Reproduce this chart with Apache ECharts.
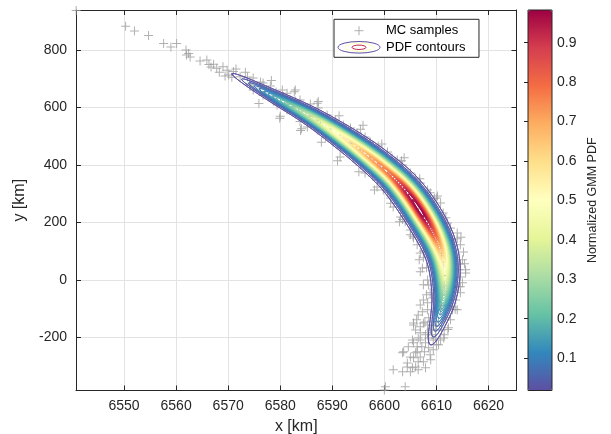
<!DOCTYPE html>
<html>
<head>
<meta charset="utf-8">
<script src="https://cdn.jsdelivr.net/npm/echarts@6/dist/echarts.min.js"></script>
<style>
html, body { margin: 0; padding: 0; background: #ffffff; }
#chart { width: 611px; height: 434px; }
</style>
</head>
<body>
<div id="chart"></div>
<script>
// ---- Monte Carlo samples of the propagated state (km) ----
const sampleX = [
  6540.8, 6550.3, 6552.0, 6554.7, 6557.6, 6559.0, 6560.1, 6561.9, 6562.4, 6562.7,
  6562.0, 6564.6, 6565.9, 6566.3, 6567.2, 6567.8, 6566.7, 6569.0, 6569.8, 6570.1,
  6571.0, 6570.7, 6569.4, 6568.3, 6571.5, 6572.3, 6573.3, 6573.7, 6574.2, 6574.8,
  6574.8, 6576.2, 6576.2, 6576.7, 6576.7, 6578.1, 6578.7, 6579.4, 6580.4, 6580.6,
  6581.3, 6581.9, 6582.5, 6581.3, 6583.8, 6583.8, 6585.2, 6585.8, 6587.1, 6587.3,
  6589.0, 6588.7, 6590.6, 6592.1, 6592.9, 6593.5, 6594.8, 6595.4, 6596.3, 6596.3,
  6597.3, 6598.7, 6598.8, 6599.8, 6600.6, 6600.6, 6601.5, 6599.8, 6601.7, 6602.5,
  6603.5, 6603.1, 6605.0, 6605.0, 6606.0, 6606.3, 6606.9, 6607.5, 6608.3, 6608.8,
  6606.9, 6610.0, 6610.8, 6608.3, 6611.3, 6612.1, 6612.7, 6614.0, 6614.6, 6615.2,
  6615.0, 6615.6, 6614.2, 6614.6, 6615.0, 6614.0, 6614.6, 6613.7, 6613.1, 6613.1,
  6612.7, 6612.3, 6611.5, 6608.8, 6607.5, 6608.3, 6607.5, 6606.5, 6605.6, 6605.6,
  6607.5, 6606.9, 6606.9, 6608.3, 6608.5, 6609.4, 6607.9, 6607.2, 6606.3, 6608.5,
  6603.7, 6606.3, 6605.0, 6606.0, 6606.9, 6605.6, 6606.5, 6604.4, 6605.4, 6605.0,
  6603.5, 6607.9, 6601.7, 6600.2, 6604.0, 6600.0, 6609.4, 6610.0, 6610.8, 6608.8,
  6609.8, 6609.2, 6610.4, 6608.5, 6609.6, 6610.8, 6611.7, 6611.9, 6610.4, 6611.2,
  6609.2, 6612.5, 6610.0, 6608.3, 6606.5, 6605.6, 6604.6, 6607.7, 6609.2, 6611.0,
  6574.2, 6577.1, 6581.3, 6585.6, 6589.6, 6593.5, 6597.3, 6601.0, 6604.0, 6606.5,
  6608.7, 6610.8, 6611.3, 6611.5, 6611.0, 6610.0, 6579.0, 6583.5, 6587.7, 6591.5,
  6595.4, 6599.2, 6602.5, 6605.2, 6607.9, 6610.0, 6611.0, 6612.1, 6610.6, 6612.3,
  6590.2, 6591.5, 6594.0, 6597.7, 6601.2, 6604.0, 6605.6, 6606.7, 6613.1, 6613.7,
  6610.6, 6609.2, 6607.9, 6603.1, 6599.2, 6595.4, 6591.5, 6587.3, 6582.9, 6579.2,
  6605.0, 6606.9, 6615.6, 6614.0, 6603.5, 6604.4, 6606.0,
  6575.9, 6578.3, 6580.0, 6582.7, 6584.1, 6587.1, 6587.9, 6591.3, 6591.5, 6595.4,
  6595.1, 6599.5, 6598.6, 6603.3, 6601.2, 6606.8, 6603.5, 6609.6, 6605.5, 6611.8,
  6607.5, 6614.0, 6608.1, 6614.6, 6608.5, 6614.6, 6608.3, 6613.6, 6607.8, 6612.2,
  6591.0, 6595.9, 6598.1, 6603.8, 6602.9, 6610.2, 6614.7, 6607.3, 6615.4, 6583.9,
  6587.3, 6579.9, 6582.9,
  6606.0, 6606.9, 6607.9, 6608.9, 6609.8, 6605.4, 6606.2, 6607.3, 6606.9, 6608.1,
  6608.9, 6606.5, 6607.5, 6610.4, 6611.4
];
const sampleY = [
  938, 883, 866, 851, 823, 811, 823, 800, 788, 776,
  783, 762, 765, 750, 751, 737, 741, 742, 730, 713,
  725, 705, 710, 723, 734, 707, 723, 706, 678, 703,
  661, 689, 668, 643, 685, 675, 626, 609, 661, 638,
  650, 626, 603, 591, 626, 551, 532, 612, 522, 598,
  574, 497, 556, 539, 452, 529, 511, 400, 372, 497,
  480, 348, 466, 323, 445, 306, 424, 313, 254, 417,
  400, 219, 372, 174, 355, 122, 337, 77, 313, 303,
  28, 285, 268, 0, 233, 198, 181, 163, 122, 97,
  70, 35, 35, 10, -10, -24, -45, -70, -94, -104,
  -139, -167, -191, -45, -70, -104, -17, -122, -150, -157,
  -150, -163, -184, -184, -202, -209, -219, -233, -233, -236,
  -250, -250, -268, -254, -268, -271, -285, -289, -306, -320,
  -320, -306, -313, -372, -372, -383, -243, -226, -209, -261,
  -174, -157, -146, -132, -111, -104, -132, -87, -70, -52,
  -63, -70, -35, -157, -202, -219, -233, -250, -191, -174,
  682, 654, 612, 570, 525, 476, 424, 369, 310, 247,
  184, 122, 49, -21, -90, -160, 640, 584, 556, 494,
  452, 390, 344, 278, 209, 153, 83, 14, 14, -42,
  480, 459, 424, 362, 285, 202, 146, 70, 139, 77,
  216, 257, 292, 383, 435, 487, 529, 577, 623, 654,
  157, 94, 24, -104, -254, -303, -303,
  614, 694, 570, 655, 526, 615, 479, 571, 428, 524,
  376, 473, 323, 415, 267, 352, 210, 284, 152, 216,
  100, 143, 42, 55, -18, -24, -80, -102, -147, -173,
  415, 538, 313, 425, 202, 292, 148, 41, 56, 520,
  621, 563, 661,
  -174, -209, -191, -174, -202, -209, -139, -111, -87, -52,
  -278, -313, -285, -226, -202
];

// ---- Gaussian mixture model fitted to the samples ----
const compWeight = [0.00137, 0.00739, 0.01840, 0.03240, 0.04943, 0.06963, 0.09284, 0.12012,
                    0.12070, 0.14529, 0.12750, 0.09196, 0.06325, 0.03818, 0.01606, 0.00547];
const compMeanX  = [6573.27, 6577.12, 6581.35, 6585.58, 6589.62, 6593.46, 6597.31, 6600.96,
                    6604.04, 6606.54, 6608.65, 6610.38, 6611.35, 6611.54, 6610.96, 6610.00];
const compMeanY  = [692.2, 653.9, 612.2, 570.4, 525.2, 476.5, 424.3, 368.7,
                    309.6, 247.0, 184.3, 118.3, 48.7, -20.9, -90.4, -160.0];
const compSdX    = [3.033, 3.038, 3.042, 2.990, 2.907, 2.852, 2.765, 2.640,
                    2.074, 1.917, 1.775, 1.507, 1.168, 1.048, 1.049, 1.153];
const compSdY    = [30.95, 31.44, 31.87, 34.08, 37.14, 39.20, 41.92, 45.10,
                    42.38, 45.05, 46.93, 49.60, 51.93, 52.10, 50.95, 49.80];
const compRho    = [-0.967, -0.940, -0.918, -0.899, -0.877, -0.856, -0.835, -0.816,
                    -0.695, -0.656, -0.622, -0.533, -0.218, 0.125, 0.564, 0.715];

// ---- Axes, contour levels and colour scale ----
const xLimits = [6540.77, 6625.38];
const yLimits = [-385, 939.4];
const xTickStep = 10;
const yTickStep = 200;
const pdfRange = [0.018, 0.983];
const contourLevelCount = 50;
const colorbarTickStep = 0.1;
const spectralColors = ['#5e4fa2', '#3288bd', '#66c2a5', '#abdda4', '#e6f598', '#ffffbf',
                        '#fee08b', '#fdae61', '#f46d43', '#d53e4f', '#9e0142'];

const FONT = 'Liberation Sans, Arial, Helvetica, sans-serif';
const INK = '#262626';

// ---- Evaluate the mixture density on a regular grid ----
function mixturePdf(x, y) {
  let p = 0;
  for (let k = 0; k < compWeight.length; k++) {
    const r = compRho[k];
    const dx = (x - compMeanX[k]) / compSdX[k];
    const dy = (y - compMeanY[k]) / compSdY[k];
    const q = (dx * dx - 2 * r * dx * dy + dy * dy) / (1 - r * r);
    p += compWeight[k] * Math.exp(-0.5 * q) /
         (2 * Math.PI * compSdX[k] * compSdY[k] * Math.sqrt(1 - r * r));
  }
  return p;
}

let gx0 = Infinity, gx1 = -Infinity, gy0 = Infinity, gy1 = -Infinity;
for (let k = 0; k < compWeight.length; k++) {
  gx0 = Math.min(gx0, compMeanX[k] - 4 * compSdX[k]);
  gx1 = Math.max(gx1, compMeanX[k] + 4 * compSdX[k]);
  gy0 = Math.min(gy0, compMeanY[k] - 4 * compSdY[k]);
  gy1 = Math.max(gy1, compMeanY[k] + 4 * compSdY[k]);
}
const nx = 340, ny = 440;
const gx = new Float64Array(nx), gy = new Float64Array(ny);
for (let i = 0; i < nx; i++) gx[i] = gx0 + (gx1 - gx0) * i / (nx - 1);
for (let j = 0; j < ny; j++) gy[j] = gy0 + (gy1 - gy0) * j / (ny - 1);

const Z = new Float64Array(nx * ny);
let zMax = 0;
for (let j = 0; j < ny; j++) {
  for (let i = 0; i < nx; i++) {
    const v = mixturePdf(gx[i], gy[j]);
    Z[j * nx + i] = v;
    if (v > zMax) zMax = v;
  }
}
for (let n = 0; n < Z.length; n++) Z[n] /= zMax;   // normalised PDF

// cell maxima let the tracer skip empty cells quickly
const cellMax = new Float64Array((nx - 1) * (ny - 1));
for (let j = 0; j < ny - 1; j++) {
  for (let i = 0; i < nx - 1; i++) {
    cellMax[j * (nx - 1) + i] = Math.max(Z[j * nx + i], Z[j * nx + i + 1],
                                         Z[(j + 1) * nx + i], Z[(j + 1) * nx + i + 1]);
  }
}

// ---- Marching squares: iso-line segments for one level ----
function traceLevel(L) {
  const out = [];
  for (let j = 0; j < ny - 1; j++) {
    const yA = gy[j], yB = gy[j + 1];
    for (let i = 0; i < nx - 1; i++) {
      if (cellMax[j * (nx - 1) + i] < L) continue;
      const a = Z[j * nx + i], b = Z[j * nx + i + 1];
      const c = Z[(j + 1) * nx + i + 1], d = Z[(j + 1) * nx + i];
      let idx = 0;
      if (a >= L) idx |= 1;
      if (b >= L) idx |= 2;
      if (c >= L) idx |= 4;
      if (d >= L) idx |= 8;
      if (idx === 15) continue;
      const xA = gx[i], xB = gx[i + 1];
      const edge = function (e) {
        let t;
        switch (e) {
          case 0: t = (L - a) / (b - a); return [xA + t * (xB - xA), yA];
          case 1: t = (L - b) / (c - b); return [xB, yA + t * (yB - yA)];
          case 2: t = (L - d) / (c - d); return [xA + t * (xB - xA), yB];
          default: t = (L - a) / (d - a); return [xA, yA + t * (yB - yA)];
        }
      };
      let pairs;
      const centreHigh = (a + b + c + d) / 4 >= L;
      switch (idx) {
        case 1: case 14: pairs = [[3, 0]]; break;
        case 2: case 13: pairs = [[0, 1]]; break;
        case 3: case 12: pairs = [[3, 1]]; break;
        case 4: case 11: pairs = [[1, 2]]; break;
        case 6: case 9: pairs = [[0, 2]]; break;
        case 7: case 8: pairs = [[3, 2]]; break;
        case 5: pairs = centreHigh ? [[0, 1], [2, 3]] : [[3, 0], [1, 2]]; break;
        case 10: pairs = centreHigh ? [[3, 0], [1, 2]] : [[0, 1], [2, 3]]; break;
        default: pairs = [];
      }
      for (const pq of pairs) {
        const P = edge(pq[0]), Q = edge(pq[1]);
        out.push(P[0], P[1], Q[0], Q[1]);
      }
    }
  }
  return out;
}

const contourLevels = [];
for (let l = 0; l < contourLevelCount; l++) {
  contourLevels.push(pdfRange[0] + (pdfRange[1] - pdfRange[0]) * l / (contourLevelCount - 1));
}
const contourSegments = contourLevels.map(traceLevel);

// ---- Legend icons ----
function svgIcon(body) {
  const svg = "<svg xmlns='http://www.w3.org/2000/svg' width='44' height='14' viewBox='0 0 44 14'>" + body + '</svg>';
  return 'image://data:image/svg+xml;charset=utf-8,' + encodeURIComponent(svg);
}
const sampleIcon = svgIcon("<path d='M17.5 7H26.5M22 2.5V11.5' stroke='#9a9a9a' stroke-width='1' fill='none'/>");
const contourIcon = svgIcon(
  "<ellipse cx='22' cy='7' rx='21' ry='5.8' fill='none' stroke='#5e4fa2' stroke-width='1'/>" +
  "<ellipse cx='22' cy='7' rx='14' ry='4' fill='none' stroke='#ffffbf' stroke-width='1'/>" +
  "<ellipse cx='22' cy='7' rx='7' ry='2.2' fill='none' stroke='#c2254d' stroke-width='1'/>");

const crossSymbol = 'path://M4,0H5V4H9V5H5V9H4V5H0V4H4Z';

const samplePoints = sampleX.map((x, i) => [x, sampleY[i]]);

// ---- Chart ----
const chart = echarts.init(document.getElementById('chart'), null, { renderer: 'canvas' });

const tickLabel = { fontSize: 14, color: INK, fontFamily: FONT, formatter: v => String(v) };
const frameLine = { show: true, onZero: false, lineStyle: { color: INK, width: 1 } };
const innerTick = { show: true, inside: true, length: 5, lineStyle: { color: INK, width: 1 } };

chart.setOption({
  animation: false,
  backgroundColor: '#ffffff',
  textStyle: { fontFamily: FONT },
  grid: [
    { left: 76, top: 10, width: 440.5, height: 380.5, containLabel: false, outerBoundsMode: 'none' },
    { left: 528, top: 10, width: 24, height: 380.5, show: true, z: 10,
      containLabel: false, outerBoundsMode: 'none',
      backgroundColor: 'rgba(0,0,0,0)', borderColor: INK, borderWidth: 1 }
  ],
  xAxis: [
    { gridIndex: 0, type: 'value', position: 'bottom', min: xLimits[0], max: xLimits[1],
      minInterval: xTickStep, maxInterval: xTickStep,
      axisLine: frameLine, axisTick: innerTick,
      axisLabel: Object.assign({ margin: 9, showMinLabel: false, showMaxLabel: false }, tickLabel),
      splitLine: { show: true, lineStyle: { color: '#e3e3e3', width: 1 } },
      name: 'x [km]', nameLocation: 'middle', nameGap: 28,
      nameTextStyle: { fontSize: 16, color: INK, fontFamily: FONT } },
    { gridIndex: 0, type: 'value', position: 'top', min: xLimits[0], max: xLimits[1],
      minInterval: xTickStep, maxInterval: xTickStep,
      axisLine: frameLine, axisTick: innerTick,
      axisLabel: { show: false }, splitLine: { show: false } },
    { gridIndex: 1, type: 'value', min: 0, max: 1, show: false }
  ],
  yAxis: [
    { gridIndex: 0, type: 'value', position: 'left', min: yLimits[0], max: yLimits[1],
      minInterval: yTickStep, maxInterval: yTickStep,
      axisLine: frameLine, axisTick: innerTick,
      axisLabel: Object.assign({ margin: 9, showMinLabel: false, showMaxLabel: false }, tickLabel),
      splitLine: { show: true, lineStyle: { color: '#e3e3e3', width: 1 } },
      name: 'y [km]', nameLocation: 'middle', nameRotate: 90, nameGap: 43,
      nameTextStyle: { fontSize: 16, color: INK, fontFamily: FONT } },
    { gridIndex: 0, type: 'value', position: 'right', min: yLimits[0], max: yLimits[1],
      minInterval: yTickStep, maxInterval: yTickStep,
      axisLine: frameLine, axisTick: innerTick,
      axisLabel: { show: false }, splitLine: { show: false } },
    { gridIndex: 1, type: 'value', position: 'right', min: pdfRange[0], max: pdfRange[1],
      minInterval: colorbarTickStep, maxInterval: colorbarTickStep, z: 11,
      axisLine: { show: false },
      axisTick: { show: true, inside: true, length: 4, lineStyle: { color: INK, width: 1 } },
      axisLabel: Object.assign({ margin: 5, showMinLabel: false, showMaxLabel: false }, tickLabel),
      splitLine: { show: false },
      name: 'Normalized GMM PDF', nameLocation: 'middle', nameRotate: 90, nameGap: 34,
      nameTextStyle: { fontSize: 12.5, color: INK, fontFamily: FONT } }
  ],
  visualMap: {
    type: 'continuous',
    seriesIndex: 1,
    dimension: 0,
    min: pdfRange[0],
    max: pdfRange[1],
    inRange: { color: spectralColors },
    calculable: false,
    hoverLink: false,
    left: 528,
    top: 10,
    padding: 0,
    itemWidth: 24,
    itemHeight: 380.5,
    z: 4
  },
  legend: {
    left: 334, top: 19.3,
    orient: 'vertical',
    padding: [4.4, 13.5, 3, 3],
    itemGap: 2.6,
    itemWidth: 44,
    itemHeight: 14,
    backgroundColor: '#ffffff',
    borderColor: INK,
    borderWidth: 1,
    selectedMode: false,
    textStyle: { fontSize: 13, color: '#000000', fontFamily: FONT },
    data: [
      { name: 'MC samples', icon: sampleIcon },
      { name: 'PDF contours', icon: contourIcon }
    ]
  },
  series: [
    {
      name: 'MC samples',
      type: 'scatter',
      xAxisIndex: 0, yAxisIndex: 0,
      symbol: crossSymbol,
      symbolSize: 9,
      itemStyle: { color: '#9e9e9e' },
      silent: true,
      z: 2,
      data: samplePoints
    },
    {
      name: 'PDF contours',
      type: 'custom',
      xAxisIndex: 0, yAxisIndex: 0,
      silent: true,
      z: 3,
      clip: true,
      data: contourLevels.map(v => [v]),
      renderItem: function (params, api) {
        const seg = contourSegments[params.dataIndex];
        if (!seg.length) return null;
        const parts = [];
        for (let s = 0; s < seg.length; s += 4) {
          const p = api.coord([seg[s], seg[s + 1]]);
          const q = api.coord([seg[s + 2], seg[s + 3]]);
          parts.push('M' + p[0].toFixed(2) + ' ' + p[1].toFixed(2) +
                     'L' + q[0].toFixed(2) + ' ' + q[1].toFixed(2));
        }
        return {
          type: 'path',
          shape: { pathData: parts.join('') },
          style: { fill: 'none', stroke: api.visual('color'), lineWidth: 0.9, lineCap: 'round' }
        };
      }
    }
  ]
});
</script>
</body>
</html>
